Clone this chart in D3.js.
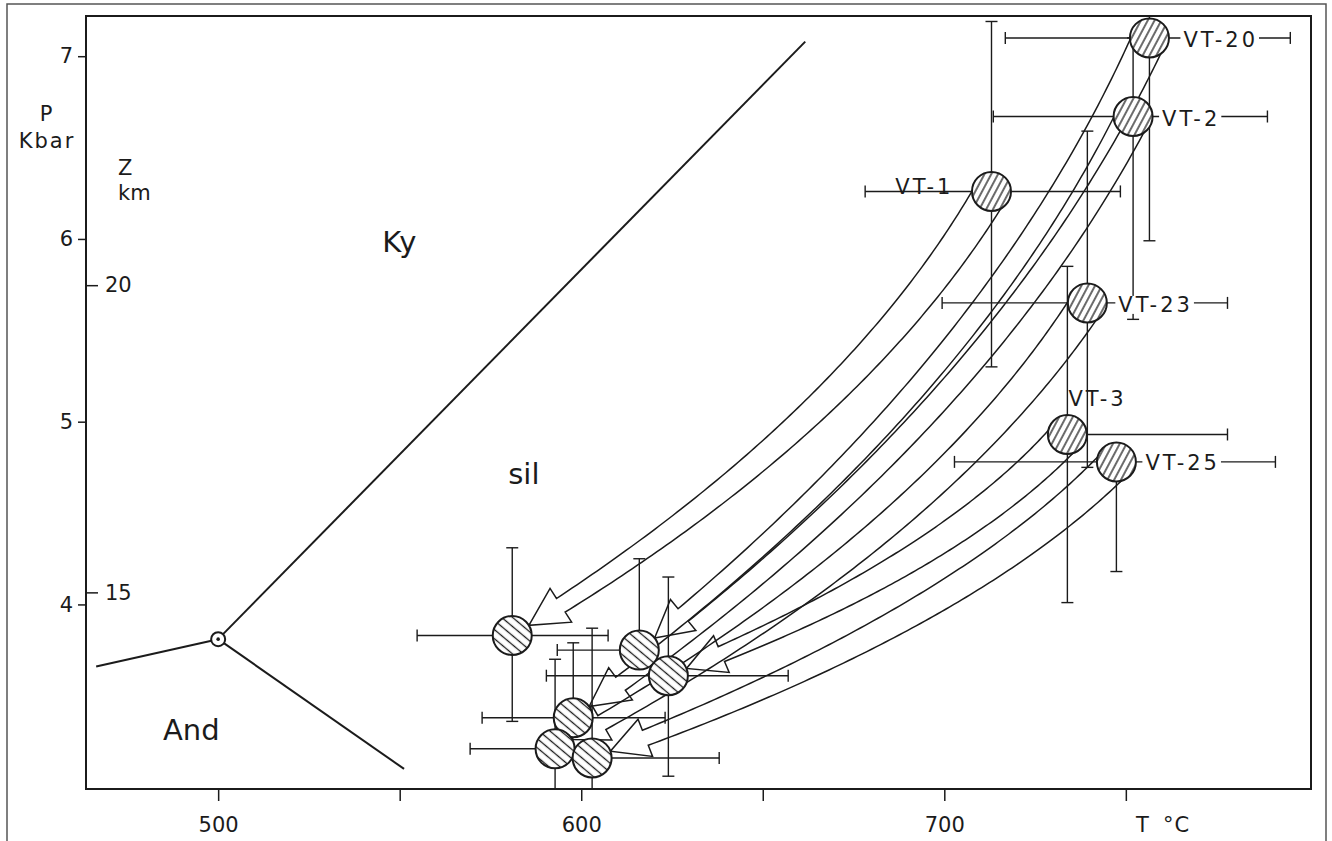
<!DOCTYPE html>
<html>
<head>
<meta charset="utf-8">
<script src="https://cdn.jsdelivr.net/npm/d3@7"></script>
<style>
  body { margin: 0; background: #fff; }
  svg { display: block; font-family: "DejaVu Sans", sans-serif; }
  .lbl { font-size: 21px; letter-spacing: 3px; }
</style>
</head>
<body>
<svg id="chart" width="1332" height="841"></svg>
<script>
/* P-T paths of the VT samples, peak (upper) to retrograde (lower) */

// peak conditions
const upperNames = ['VT-20', 'VT-2', 'VT-1', 'VT-23', 'VT-3', 'VT-25'];
const upperT   = [756.5, 752, 713, 739.4, 733.9, 747.4];
const upperP   = [7.10, 6.67, 6.26, 5.65, 4.93, 4.78];
const upperTlo = [716.8, 713.5, 678.2, 699.4, 733.9, 702.8];
const upperThi = [795.3, 789.0, 748.5, 778.0, 778.0, 791.2];
const upperPlo = [5.99, 5.56, 5.30, 4.75, 4.01, 4.18];
const upperPhi = [8.21, 7.10, 7.19, 6.59, 5.85, 4.78];

// retrograde conditions
const lowerT   = [581.0, 616.0, 624.0, 597.8, 592.8, 603.0];
const lowerP   = [3.83, 3.75, 3.61, 3.38, 3.21, 3.16];
const lowerTlo = [554.8, 593.4, 590.4, 572.7, 569.4, 603.0];
const lowerThi = [607.4, 616.0, 657.0, 623.1, 592.8, 638.0];
const lowerPlo = [3.36, 3.75, 3.06, 3.38, 2.80, 2.80];
const lowerPhi = [4.31, 4.25, 4.15, 3.79, 3.70, 3.87];

// arrows: index in upper -> index in lower
const arrowFrom = [2, 0, 1, 3, 4, 5];
const arrowTo   = [0, 1, 3, 4, 2, 5];

// Al2SiO5 triple point and reaction lines
const tripleT = 500, tripleP = 3.81;
const boundaryT = [661.7, 466.4, 551.2];
const boundaryP = [7.08, 3.66, 3.10];

// stability fields
const fieldNames = ['Ky', 'sil', 'And'];
const fieldT = [545.2, 579.9, 484.8];
const fieldP = [5.93, 4.66, 3.26];

// axes
const xTicks = [500, 550, 600, 650, 700, 750];
const xTickLabels = ['500', '', '600', '', '700', ''];
const pTicks = [4, 5, 6, 7];
const zTicks = [15, 20];
const zAtP = [4.066, 5.747]; // pressure matching 15 and 20 km

const svg = d3.select('#chart');
const stroke = '#1b1b1b';

const x = d3.scaleLinear().domain([463.6, 801]).range([86, 1311]);
const y = d3.scaleLinear().domain([2.99, 7.22]).range([789, 16]);
const z = d3.scaleLinear().domain(zTicks).range([y(zAtP[0]), y(zAtP[1])]);

// hatch patterns for the circles
const defs = svg.append('defs');
let hatch = (id, size, angle) => {
    let p = defs.append('pattern').attr('id', id).attr('patternUnits', 'userSpaceOnUse')
        .attr('width', size).attr('height', size).attr('patternTransform', 'rotate(' + angle + ')');
    p.append('rect').attr('width', size).attr('height', size).attr('fill', '#fff');
    p.append('line').attr('x1', size/2).attr('y1', 0).attr('x2', size/2).attr('y2', size)
        .attr('stroke', stroke).attr('stroke-width', 1.3);
};
hatch('hatchUp', 6, 28);
hatch('hatchDown', 7, -50);

defs.append('clipPath').attr('id', 'plotClip').append('rect')
    .attr('x', x.range()[0]).attr('y', y.range()[1])
    .attr('width', x.range()[1] - x.range()[0]).attr('height', y.range()[0] - y.range()[1]);

// outer frame of the figure
svg.append('rect').attr('x', 7).attr('y', 4).attr('width', 1319).attr('height', 900)
    .attr('fill', 'none').attr('stroke', '#555').attr('stroke-width', 1.5);

// plot frame
svg.append('rect').attr('x', x.range()[0]).attr('y', y.range()[1])
    .attr('width', x.range()[1] - x.range()[0]).attr('height', y.range()[0] - y.range()[1])
    .attr('fill', 'none').attr('stroke', stroke).attr('stroke-width', 2);

// axes
let styleAxis = (g) => {
    g.select('.domain').remove();
    g.attr('font-family', null).attr('font-size', 21);
    g.selectAll('line').attr('stroke', stroke).attr('stroke-width', 1.5);
    g.selectAll('text').attr('fill', stroke);
};
svg.append('g').attr('transform', 'translate(0,' + y.range()[0] + ')')
    .call(d3.axisBottom(x).tickValues(xTicks).tickSize(12).tickPadding(16)
        .tickFormat((d, i) => xTickLabels[i]))
    .call(styleAxis);
svg.append('g').attr('transform', 'translate(' + x.range()[0] + ',0)')
    .call(d3.axisLeft(y).tickValues(pTicks).tickSize(8).tickPadding(5).tickFormat(d3.format('d')))
    .call(styleAxis);
svg.append('g').attr('transform', 'translate(' + x.range()[0] + ',0)')
    .call(d3.axisRight(z).tickValues(zTicks).tickSize(12).tickPadding(7).tickFormat(d3.format('d')))
    .call(styleAxis);

// axis titles
let title = (txt, tx, ty, anchor, size, spacing) => svg.append('text').text(txt)
    .attr('x', tx).attr('y', ty).attr('text-anchor', anchor).attr('font-size', size)
    .attr('letter-spacing', spacing).attr('fill', stroke);
title('P', 46, 121, 'middle', 21, 0);
title('Kbar', 47, 148, 'middle', 21, 2);
title('Z', 118, 175, 'start', 21, 0);
title('km', 118, 200, 'start', 21, 0);
title('T', 1136, 832, 'start', 21, 0);
title('°C', 1163, 832, 'start', 21, 1);

// reaction lines
const reactions = svg.append('g');
boundaryT.forEach((t, i) => {
    reactions.append('line')
        .attr('x1', x(tripleT)).attr('y1', y(tripleP)).attr('x2', x(t)).attr('y2', y(boundaryP[i]))
        .attr('stroke', stroke).attr('stroke-width', 2);
});
reactions.append('circle').attr('cx', x(tripleT)).attr('cy', y(tripleP)).attr('r', 7)
    .attr('fill', '#fff').attr('stroke', stroke).attr('stroke-width', 2);
reactions.append('circle').attr('cx', x(tripleT)).attr('cy', y(tripleP)).attr('r', 1.8).attr('fill', stroke);

fieldNames.forEach((f, i) => {
    svg.append('text').text(f).attr('x', x(fieldT[i])).attr('y', y(fieldP[i]))
        .attr('font-size', 29).attr('fill', stroke);
});

// error bars
const bars = svg.append('g').attr('clip-path', 'url(#plotClip)')
    .attr('stroke', stroke).attr('stroke-width', 1.4).attr('fill', 'none');
let errorBars = (T, P, Tlo, Thi, Plo, Phi) => {
    T.forEach((t, i) => {
        let cx = x(t), cy = y(P[i]);
        [Tlo[i], Thi[i]].forEach((e) => {
            if (e === t) return;
            bars.append('line').attr('x1', cx).attr('y1', cy).attr('x2', x(e)).attr('y2', cy);
            bars.append('line').attr('x1', x(e)).attr('y1', cy - 6).attr('x2', x(e)).attr('y2', cy + 6);
        });
        [Plo[i], Phi[i]].forEach((e) => {
            if (e === P[i]) return;
            bars.append('line').attr('x1', cx).attr('y1', cy).attr('x2', cx).attr('y2', y(e));
            bars.append('line').attr('x1', cx - 6).attr('y1', y(e)).attr('x2', cx + 6).attr('y2', y(e));
        });
    });
};
errorBars(upperT, upperP, upperTlo, upperThi, upperPlo, upperPhi);
errorBars(lowerT, lowerP, lowerTlo, lowerThi, lowerPlo, lowerPhi);

// hollow curved arrows
const R = 19.5;
let bez = (s, c, e, t) => ({
    x: (1-t)*(1-t)*s.x + 2*(1-t)*t*c.x + t*t*e.x,
    y: (1-t)*(1-t)*s.y + 2*(1-t)*t*c.y + t*t*e.y
});
let arrowPath = (s, target) => {
    let ctrl = (e) => ({ x: e.x + 0.7*(s.x - e.x), y: s.y + 0.54*(e.y - s.y) });
    let c0 = ctrl(target);
    let ux = target.x - c0.x, uy = target.y - c0.y, ul = Math.hypot(ux, uy);
    let tip = { x: target.x - ux/ul*R, y: target.y - uy/ul*R };
    let c = ctrl(tip);

    let pts = d3.range(0, 121).map(i => bez(s, c, tip, i/120));
    let len = [0];
    for (let i = 1; i < pts.length; i++) len.push(len[i-1] + Math.hypot(pts[i].x - pts[i-1].x, pts[i].y - pts[i-1].y));
    const total = len[len.length - 1], headLen = 34, headW = 20;
    let shaftEnd = total - headLen;
    let left = [], right = [], base = null, n = null;
    for (let i = 0; i < pts.length && len[i] <= shaftEnd; i++) {
        let a = pts[Math.max(i-1, 0)], b = pts[Math.min(i+1, pts.length-1)];
        let dx = b.x - a.x, dy = b.y - a.y, dl = Math.hypot(dx, dy);
        n = { x: -dy/dl, y: dx/dl };
        let w = 17 - 9*(len[i]/shaftEnd);
        left.push([pts[i].x + n.x*w, pts[i].y + n.y*w]);
        right.push([pts[i].x - n.x*w, pts[i].y - n.y*w]);
        base = pts[i];
    }
    let outline = left.concat([[base.x + n.x*headW, base.y + n.y*headW], [tip.x, tip.y],
        [base.x - n.x*headW, base.y - n.y*headW]], right.reverse());
    return d3.line()(outline) + 'Z';
};
const arrows = svg.append('g');
arrowFrom.forEach((u, i) => {
    let l = arrowTo[i];
    arrows.append('path')
        .attr('d', arrowPath({ x: x(upperT[u]), y: y(upperP[u]) }, { x: x(lowerT[l]), y: y(lowerP[l]) }))
        .attr('fill', 'none').attr('stroke', stroke).attr('stroke-width', 1.5).attr('stroke-linejoin', 'miter');
});

// sample circles
let dots = (T, P, pattern) => {
    svg.append('g').selectAll('circle').data(T).join('circle')
        .attr('cx', d => x(d)).attr('cy', (d, i) => y(P[i])).attr('r', R)
        .attr('fill', 'url(#' + pattern + ')').attr('stroke', stroke).attr('stroke-width', 2);
};
dots(lowerT, lowerP, 'hatchDown');
dots(upperT, upperP, 'hatchUp');

// sample labels
const labelDx = [34, 29, -38, 31, 1, 29];
const labelDy = [9, 9, 3, 9, -28, 8];
const labelAnchor = ['start', 'start', 'end', 'start', 'start', 'start'];
const labelKnockout = [true, true, false, true, false, true];
upperNames.forEach((name, i) => {
    let g = svg.append('g');
    let t = g.append('text').classed('lbl', true).text(name)
        .attr('x', x(upperT[i]) + labelDx[i]).attr('y', y(upperP[i]) + labelDy[i])
        .attr('text-anchor', labelAnchor[i]).attr('fill', stroke);
    if (labelKnockout[i]) {
        let bb = t.node().getBBox();
        g.insert('rect', 'text').attr('x', bb.x - 3).attr('y', bb.y + 3)
            .attr('width', bb.width + 4).attr('height', bb.height - 6).attr('fill', '#fff');
    }
});
</script>
</body>
</html>
